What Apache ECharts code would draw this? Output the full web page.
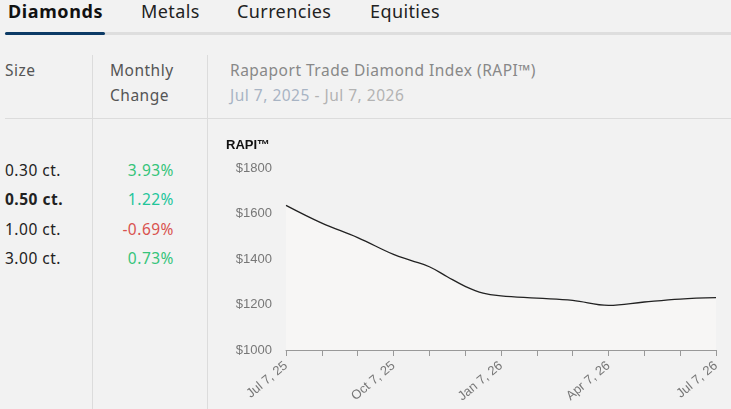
<!DOCTYPE html>
<html>
<head>
<meta charset="utf-8">
<script src="https://cdn.jsdelivr.net/npm/echarts@6/dist/echarts.min.js"></script>
<style>
  html, body { margin: 0; padding: 0; }
  body { width: 731px; height: 409px; background: #f2f2f2; position: relative; overflow: hidden;
         font-family: "Noto Sans", "Open Sans", sans-serif; color: #222; }
  .tabs { position: absolute; left: 0; top: 0; width: 731px; height: 36px; }
  .tab { position: absolute; top: -1px; font-size: 18px; letter-spacing: 0.4px; line-height: 24px; color: #222; }
  .tab.on { font-weight: bold; color: #111; letter-spacing: 0.6px; }
  .bar { position: absolute; left: 5px; top: 32px; width: 726px; height: 3px; background: #dedede; }
  .bar i { position: absolute; left: 0; top: 0; width: 100px; height: 3px; background: #0d3b66; border-radius: 2px; }
  .vl { position: absolute; width: 1px; background: #dcdcdc; top: 55px; bottom: 0; }
  .hl { position: absolute; left: 5px; right: 0; top: 118px; height: 1px; background: #dcdcdc; }
  .h, .t, .d, .sz, .pc { font-size: 15.5px; letter-spacing: 0.5px; }
  .h { position: absolute; color: #555; line-height: 25px; }
  .t { position: absolute; color: #888; line-height: 25px; }
  .d { position: absolute; color: #b3b3b3; line-height: 25px; }
  .sz { position: absolute; left: 5px; color: #222; }
  .pc { position: absolute; right: 557px; text-align: right; }
  #chart { position: absolute; left: 207px; top: 120px; width: 524px; height: 289px; }
</style>
</head>
<body>
<div class="tabs">
  <div class="tab on" style="left:8px">Diamonds</div>
  <div class="tab" style="left:141px">Metals</div>
  <div class="tab" style="left:237px">Currencies</div>
  <div class="tab" style="left:370px">Equities</div>
</div>
<div class="bar"><i></i></div>
<div class="vl" style="left:92px"></div>
<div class="vl" style="left:207px"></div>
<div class="hl"></div>
<div class="h" style="left:5px;top:58px">Size</div>
<div class="h" style="left:110px;top:58px">Monthly</div>
<div class="h" style="left:110px;top:83px">Change</div>
<div class="t" style="left:230px;top:58px">Rapaport Trade Diamond Index (RAPI™)</div>
<div class="d" style="left:230px;top:83px"><span style="color:#a8b4c4">Jul 7, 2025</span> - Jul 7, 2026</div>
<div id="rows"></div>
<div id="chart"></div>
<script>
// table rows
var sizes = ['0.30 ct.', '0.50 ct.', '1.00 ct.', '3.00 ct.'];
var changes = ['3.93%', '1.22%', '-0.69%', '0.73%'];
var changeColors = ['#36c47a', '#22c59a', '#d9534f', '#36c47a'];

// RAPI line: x in months from Jul 7, 2025
var months = [0, 1, 2, 3, 3.5, 4, 4.5, 5, 5.5, 6, 7, 8, 9, 10, 11, 12];
var rapi = [1636, 1558, 1494, 1420, 1393, 1366, 1322, 1280, 1250, 1238, 1228, 1218, 1196, 1211, 1224, 1230];
var tickLabels = ['Jul 7, 25', 'Oct 7, 25', 'Jan 7, 26', 'Apr 7, 26', 'Jul 7, 26'];

var rows = document.getElementById('rows');
var top0 = 159;
sizes.forEach(function (s, i) {
  var y = top0 + i * 29.3;
  var a = document.createElement('div');
  a.className = 'sz';
  a.style.top = y + 'px';
  if (i === 1) a.style.fontWeight = 'bold';
  a.textContent = s;
  rows.appendChild(a);
  var b = document.createElement('div');
  b.className = 'pc';
  b.style.top = y + 'px';
  b.style.color = changeColors[i];
  b.textContent = changes[i];
  rows.appendChild(b);
});

var chart = echarts.init(document.getElementById('chart'));
chart.setOption({
  animation: false,
  title: {
    text: 'RAPI™',
    left: 14,
    top: 14,
    textStyle: { fontSize: 13, fontWeight: 'bold', color: '#111', fontFamily: 'Liberation Sans' }
  },
  grid: { left: 79, right: 15, top: 48, bottom: 59 },
  xAxis: {
    type: 'value',
    min: 0,
    max: 12,
    interval: 1,
    splitLine: { show: false },
    axisLine: { lineStyle: { color: '#999' } },
    axisTick: { length: 6, lineStyle: { color: '#999' } },
    axisLabel: {
      rotate: 40,
      margin: 14,
      color: '#777',
      fontSize: 13,
      fontFamily: 'Liberation Sans',
      formatter: function (v) { return v % 3 === 0 ? tickLabels[v / 3] : ''; }
    }
  },
  yAxis: {
    type: 'value',
    min: 1000,
    max: 1800,
    interval: 200,
    splitLine: { show: false },
    axisLine: { show: false },
    axisTick: { show: false },
    axisLabel: {
      margin: 14,
      color: '#777',
      fontSize: 13,
      fontFamily: 'Liberation Sans',
      formatter: function (v) { return '$' + v; }
    }
  },
  series: [{
    type: 'line',
    data: months.map(function (m, i) { return [m, rapi[i]]; }),
    smooth: 0.4,
    showSymbol: false,
    lineStyle: { color: '#222', width: 1.3 },
    areaStyle: { color: '#f7f6f5', opacity: 1 }
  }]
});
</script>
</body>
</html>
